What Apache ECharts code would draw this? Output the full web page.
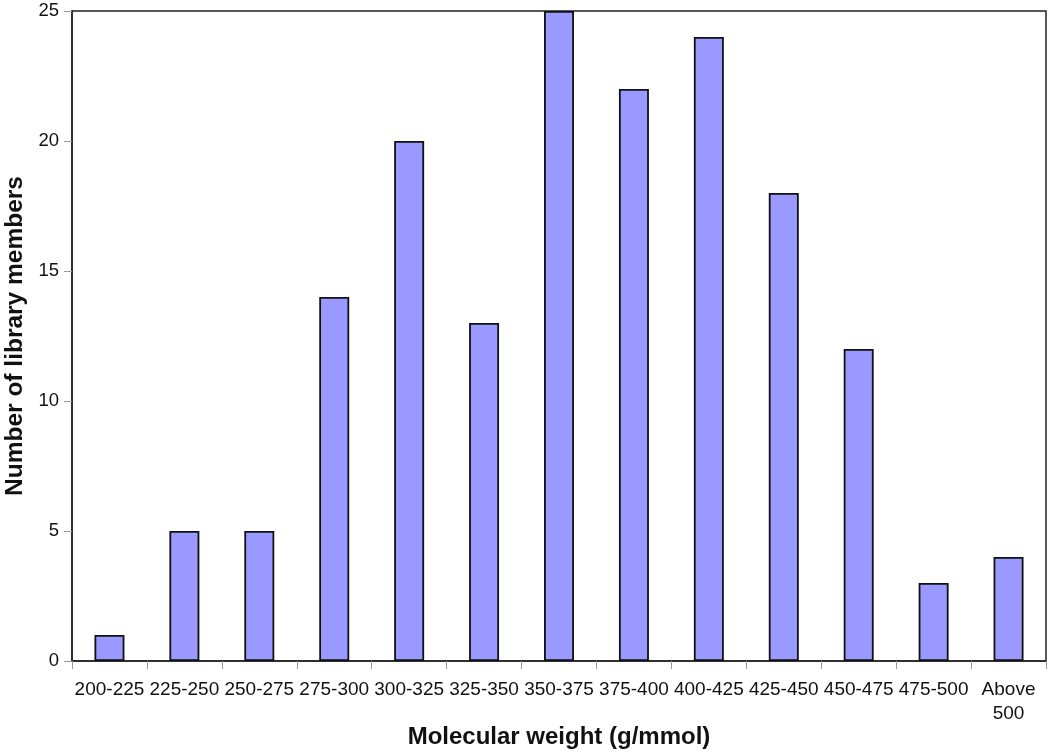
<!DOCTYPE html>
<html>
<head>
<meta charset="utf-8">
<script src="https://cdn.jsdelivr.net/npm/echarts@6/dist/echarts.min.js"></script>
<style>html,body{margin:0;padding:0;background:#fff}#c{width:1050px;height:752px}</style>
</head>
<body>
<div id="c"></div>
<script>
const categories = ['200-225','225-250','250-275','275-300','300-325','325-350','350-375','375-400','400-425','425-450','450-475','475-500','Above\n500'];
const counts = [1,5,5,14,20,13,25,22,24,18,12,3,4];
const yTicks = {min:0, max:25, interval:5};

const chart = echarts.init(document.getElementById('c'), null, {renderer:'canvas'});
chart.setOption({
  animation:false,
  backgroundColor:'#fff',
  textStyle:{fontFamily:'Liberation Sans, Arial, sans-serif'},
  grid:{left:72, right:4, top:11, bottom:91, containLabel:false, outerBoundsMode:'none', show:true, borderColor:'#222', borderWidth:1.5, backgroundColor:'transparent'},
  xAxis:{
    type:'category', data:categories,
    name:'Molecular weight (g/mmol)', nameLocation:'middle', nameGap:64, nameMoveOverlap:false,
    nameTextStyle:{fontSize:24, fontWeight:'bold', color:'#111'},
    axisLine:{lineStyle:{color:'#222', width:1.5}},
    axisTick:{show:true, length:8, alignWithLabel:false, lineStyle:{color:'#999'}},
    axisLabel:{fontSize:19, color:'#111', margin:17, lineHeight:24, interval:0}
  },
  yAxis:{
    type:'value', min:yTicks.min, max:yTicks.max, interval:yTicks.interval,
    name:'Number of library members', nameLocation:'middle', nameGap:44, nameMoveOverlap:false,
    nameTextStyle:{fontSize:24.5, fontWeight:'bold', color:'#111'},
    axisLine:{show:true, lineStyle:{color:'#222', width:1.5}},
    axisTick:{show:true, length:8, lineStyle:{color:'#999'}},
    axisLabel:{fontSize:18.5, color:'#111', margin:13},
    splitLine:{show:false}
  },
  series:[{
    type:'bar', data:counts, barWidth:'40%',
    itemStyle:{color:'#9999ff', borderColor:'#111', borderWidth:1.8}
  }]
});
</script>
</body>
</html>
